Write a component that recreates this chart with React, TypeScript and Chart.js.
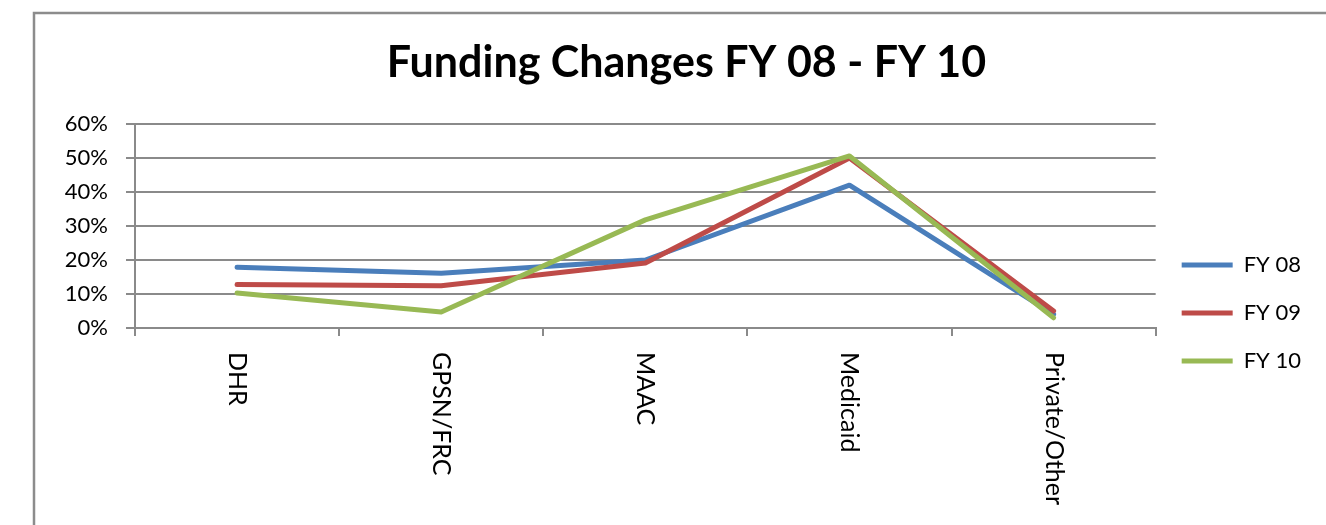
import React, { useEffect, useRef } from "react";
import { Chart, registerables } from "chart.js";

Chart.register(...registerables);

const categories = ["DHR", "GPSN/FRC", "MAAC", "Medicaid", "Private/Other"];
const fy08 = [17.9, 16.1, 20.0, 42.0, 4.0];
const fy09 = [12.8, 12.4, 19.1, 50.0, 5.0];
const fy10 = [10.3, 4.7, 31.8, 50.6, 3.0];
const seriesLabels = ["FY 08", "FY 09", "FY 10"];
const yTicks = [0, 10, 20, 30, 40, 50, 60];
const titleText = "Funding Changes FY 08 - FY 10";

const GRID = "#8a8a8a";
const FONT = "Lato, 'Open Sans', sans-serif";

const framePlugin = {
  id: "frame",
  beforeDraw(chart: any) {
    const ctx = chart.ctx;
    ctx.save();
    ctx.strokeStyle = "#8c8c8c";
    ctx.lineWidth = 2.5;
    ctx.beginPath();
    ctx.moveTo(34, 540);
    ctx.lineTo(34, 13);
    ctx.lineTo(1330, 13);
    ctx.stroke();
    ctx.restore();
  },
};

const xLabelPlugin = {
  id: "xLabelsRotated",
  afterDraw(chart: any) {
    const xs = chart.scales.x;
    const ctx = chart.ctx;
    (chart.data.labels as string[]).forEach((lab, i) => {
      const px = xs.getPixelForValue(i);
      ctx.save();
      ctx.translate(px, xs.top + 24);
      ctx.rotate(Math.PI / 2);
      ctx.font = `25px ${FONT}`;
      ctx.fillStyle = "#000";
      ctx.textAlign = "left";
      ctx.textBaseline = "middle";
      ctx.fillText(lab, 0, 0);
      ctx.restore();
    });
  },
};

export default function App() {
  const ref = useRef<HTMLCanvasElement | null>(null);

  useEffect(() => {
    if (!ref.current) return;
    const colors = ["#4A7EBB", "#BE4B48", "#98B954"];
    const values = [fy08, fy09, fy10];
    const chart = new Chart(ref.current, {
      type: "line",
      data: {
        labels: categories,
        datasets: seriesLabels.map((label, i) => ({
          label,
          data: values[i],
          borderColor: colors[i],
          backgroundColor: colors[i],
          borderWidth: 5,
          pointRadius: 0,
          pointHoverRadius: 0,
          tension: 0,
          borderCapStyle: "round",
          borderJoinStyle: "round",
          order: 3 - i,
        })),
      },
      options: {
        responsive: false,
        animation: false,
        devicePixelRatio: 1,
        layout: { padding: { top: 13, left: 62, right: 15, bottom: -88 } },
        plugins: {
          title: {
            display: true,
            text: titleText,
            color: "#000",
            font: { family: FONT, size: 43, weight: "bold" },
            padding: { top: 24, bottom: 35.4 },
          },
          legend: {
            position: "right",
            labels: {
              color: "#000",
              font: { family: FONT, size: 22 },
              usePointStyle: true,
              pointStyle: "line",
              pointStyleWidth: 51,
              padding: 26,
              sort: (a: any, b: any) => a.datasetIndex - b.datasetIndex,
            },
          },
          tooltip: { enabled: false },
        },
        scales: {
          x: {
            type: "category",
            offset: true,
            grid: {
              offset: true,
              drawOnChartArea: false,
              drawTicks: true,
              tickLength: 8,
              color: GRID,
              lineWidth: 2,
            },
            border: { display: true, color: GRID, width: 2 },
            ticks: { display: false },
            afterFit(scale: any) {
              scale.height = 285;
            },
          },
          y: {
            min: 0,
            max: 60,
            afterBuildTicks(scale: any) {
              scale.ticks = yTicks.map((v) => ({ value: v }));
            },
            grid: { color: GRID, lineWidth: 2, tickLength: 9, drawTicks: true },
            border: { display: true, color: GRID, width: 2 },
            ticks: {
              color: "#000",
              font: { family: FONT, size: 22 },
              padding: 18,
              callback: (v: any) => `${v}%`,
            },
            afterFit(scale: any) {
              scale.width = 73;
            },
          },
        },
      },
      plugins: [framePlugin, xLabelPlugin],
    } as any);
    return () => chart.destroy();
  }, []);

  return (
    <div style={{ position: "absolute", left: 0, top: 0, width: 1326, height: 525 }}>
      <canvas ref={ref} width={1326} height={525} style={{ display: "block" }} />
    </div>
  );
}
